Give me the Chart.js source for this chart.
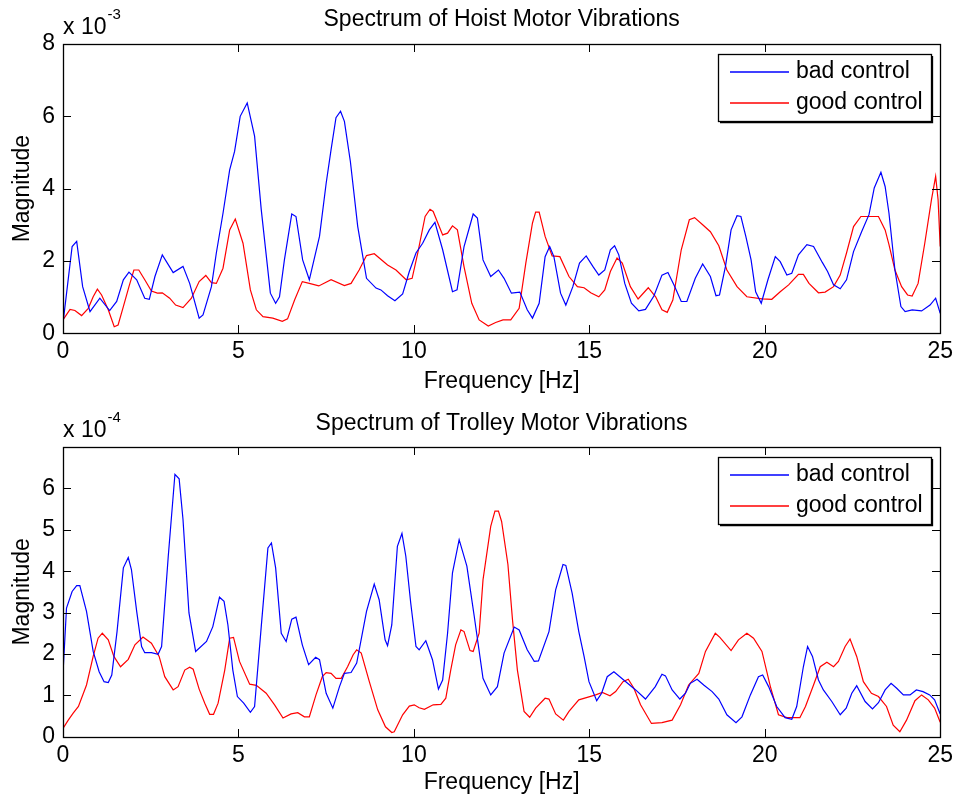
<!DOCTYPE html>
<html><head><meta charset="utf-8">
<script src="https://cdn.jsdelivr.net/npm/chart.js@4"></script>
<style>
html,body{margin:0;padding:0;background:#fff;width:958px;height:801px;overflow:hidden}
canvas{position:absolute;left:0}
#c1{top:0}
#c2{top:403px}
</style></head><body>
<canvas id="c1" width="958" height="400"></canvas>
<canvas id="c2" width="958" height="398"></canvas>
<script>
// ---------- DATA ----------
// Hoist motor, magnitude in units of 1e-3
const hoistBadHz  = [0,0.26,0.39,0.56,0.77,1.05,1.33,1.53,1.72,1.88,2.10,2.33,2.46,2.62,2.83,3.14,3.42,3.61,3.88,3.99,4.23,4.37,4.56,4.75,4.89,5.05,5.25,5.46,5.65,5.91,6.06,6.17,6.31,6.52,6.64,6.83,7.02,7.31,7.50,7.64,7.78,7.91,8.02,8.19,8.40,8.65,8.92,9.06,9.25,9.46,9.68,9.87,10.06,10.25,10.44,10.60,10.82,11.10,11.23,11.43,11.69,11.81,11.97,12.19,12.41,12.57,12.78,13.02,13.23,13.38,13.57,13.74,13.87,13.99,14.18,14.33,14.53,14.72,14.91,15.10,15.27,15.44,15.60,15.72,15.84,16.01,16.20,16.41,16.60,16.84,17.07,17.24,17.41,17.62,17.78,18.02,18.23,18.45,18.61,18.71,18.88,19.04,19.21,19.32,19.46,19.61,19.74,19.90,20.09,20.30,20.44,20.63,20.77,20.96,21.20,21.39,21.64,21.79,21.96,22.15,22.33,22.53,22.76,22.97,23.12,23.31,23.43,23.54,23.71,23.88,24.00,24.20,24.47,24.71,24.87,25.0];
const hoistBadMag = [0.28,2.40,2.54,1.29,0.60,0.97,0.63,0.88,1.48,1.69,1.48,0.97,0.94,1.57,2.17,1.68,1.85,1.38,0.42,0.51,1.29,2.22,3.32,4.52,5.03,6.00,6.37,5.45,3.42,1.11,0.83,1.01,2.03,3.30,3.23,2.03,1.48,2.68,4.15,5.08,5.96,6.14,5.86,4.75,2.95,1.52,1.25,1.20,1.04,0.90,1.09,1.71,2.22,2.49,2.86,3.07,2.31,1.15,1.20,2.40,3.30,3.19,2.03,1.57,1.75,1.52,1.11,1.14,0.65,0.42,0.83,2.12,2.40,2.12,1.11,0.78,1.29,1.94,2.14,1.85,1.61,1.75,2.31,2.42,2.17,1.38,0.83,0.62,0.66,1.03,1.61,1.68,1.34,0.88,0.88,1.52,1.92,1.57,1.04,1.06,1.85,2.86,3.25,3.23,2.68,2.03,1.15,0.83,1.48,2.12,1.98,1.61,1.66,2.17,2.45,2.40,1.96,1.71,1.34,1.23,1.48,2.26,2.81,3.28,4.02,4.45,4.06,3.32,1.75,0.74,0.60,0.65,0.62,0.78,0.97,0.55];
const hoistGoodHz  = [0,0.20,0.34,0.53,0.72,0.86,0.98,1.10,1.29,1.46,1.57,1.72,1.88,2.02,2.16,2.33,2.52,2.69,2.83,3.04,3.21,3.42,3.66,3.88,4.07,4.23,4.37,4.56,4.75,4.91,5.13,5.34,5.51,5.70,5.98,6.25,6.40,6.60,6.82,7.02,7.29,7.64,8.02,8.21,8.44,8.65,8.87,9.25,9.49,9.78,9.95,10.11,10.32,10.46,10.55,10.82,10.96,11.10,11.24,11.43,11.65,11.86,12.12,12.33,12.54,12.76,13.00,13.19,13.38,13.47,13.57,13.74,13.94,14.16,14.42,14.66,14.85,15.04,15.27,15.44,15.60,15.79,15.94,16.17,16.39,16.68,16.89,17.07,17.22,17.38,17.62,17.85,18.00,18.23,18.45,18.69,18.92,19.21,19.49,19.92,20.20,20.44,20.68,20.96,21.10,21.26,21.53,21.72,21.96,22.15,22.33,22.53,22.74,23.24,23.43,23.54,23.71,23.90,24.07,24.20,24.37,24.56,24.75,24.87,24.94,25.0];
const hoistGoodMag = [0.37,0.66,0.63,0.49,0.69,1.01,1.22,1.06,0.65,0.18,0.23,0.74,1.29,1.75,1.75,1.48,1.17,1.11,1.12,0.97,0.78,0.71,0.97,1.43,1.60,1.40,1.38,1.80,2.86,3.16,2.49,1.20,0.65,0.46,0.42,0.33,0.40,0.92,1.43,1.38,1.31,1.48,1.32,1.38,1.75,2.15,2.20,1.89,1.75,1.48,1.52,2.22,3.23,3.43,3.37,2.72,2.77,2.97,2.86,1.84,0.83,0.37,0.20,0.30,0.37,0.37,0.69,1.94,3.05,3.35,3.35,2.68,2.14,2.12,1.57,1.29,1.26,1.12,1.01,1.20,1.71,2.08,1.94,1.29,0.95,1.26,1.01,0.65,0.58,0.92,2.31,3.14,3.20,3.00,2.81,2.42,1.75,1.29,1.01,0.95,0.94,1.15,1.34,1.63,1.63,1.38,1.12,1.14,1.29,1.61,2.22,2.95,3.23,3.23,2.86,2.45,1.75,1.29,1.06,1.03,1.38,2.49,3.69,4.34,3.69,2.40];
// Trolley motor, magnitude in units of 1e-4
const trolleyBadHz  = [0,0.10,0.26,0.39,0.48,0.67,0.86,1.03,1.17,1.29,1.39,1.54,1.72,1.86,1.95,2.10,2.24,2.33,2.52,2.71,2.81,3.00,3.19,3.31,3.42,3.59,3.78,4.09,4.27,4.46,4.59,4.70,4.84,4.97,5.15,5.34,5.46,5.65,5.84,5.94,6.06,6.22,6.36,6.52,6.64,6.82,7.00,7.20,7.31,7.50,7.69,7.88,8.02,8.21,8.37,8.65,8.87,9.01,9.18,9.25,9.37,9.53,9.66,9.77,9.91,10.06,10.15,10.34,10.53,10.70,10.82,10.96,11.10,11.29,11.51,11.72,11.97,12.19,12.38,12.57,12.86,13.00,13.23,13.43,13.55,13.85,14.04,14.25,14.33,14.51,14.70,14.85,14.99,15.21,15.35,15.51,15.70,15.98,16.32,16.60,16.88,17.07,17.17,17.36,17.58,17.74,17.88,18.07,18.26,18.50,18.69,18.92,19.18,19.35,19.59,19.82,19.94,20.11,20.34,20.58,20.77,20.91,21.10,21.22,21.36,21.53,21.67,21.91,22.15,22.32,22.48,22.62,22.86,23.07,23.24,23.43,23.60,23.76,23.95,24.14,24.32,24.51,24.70,24.84,25.0];
const trolleyBadMag = [1.53,3.11,3.51,3.65,3.65,3.03,2.06,1.57,1.33,1.31,1.49,2.54,4.08,4.33,4.04,3.03,2.18,2.03,2.03,1.99,2.18,4.36,6.34,6.23,5.25,2.99,2.06,2.30,2.66,3.37,3.27,2.70,1.61,0.97,0.81,0.59,0.73,2.66,4.56,4.68,4.08,2.50,2.30,2.84,2.89,2.22,1.74,1.92,1.86,1.05,0.69,1.21,1.53,1.55,1.78,3.03,3.69,3.31,2.34,2.20,2.70,4.60,4.91,4.36,3.23,2.18,2.10,2.32,1.86,1.15,1.37,2.50,3.96,4.76,4.12,2.91,1.41,1.01,1.21,2.02,2.65,2.58,2.10,1.82,1.83,2.54,3.55,4.16,4.14,3.47,2.54,1.94,1.33,0.87,1.05,1.45,1.57,1.37,1.13,0.91,1.21,1.51,1.47,1.13,0.91,1.05,1.29,1.39,1.25,1.09,0.91,0.53,0.34,0.48,1.01,1.45,1.49,1.21,0.73,0.46,0.42,0.73,1.69,2.18,1.94,1.37,1.13,0.85,0.53,0.69,1.05,1.23,0.85,0.67,0.82,1.13,1.29,1.17,1.01,1.01,1.13,1.09,1.01,0.89,0.55];
const trolleyGoodHz  = [0,0.15,0.29,0.44,0.67,0.86,1.00,1.12,1.29,1.45,1.64,1.86,2.05,2.28,2.52,2.74,2.90,3.14,3.28,3.47,3.61,3.71,3.88,4.04,4.18,4.29,4.42,4.61,4.75,4.86,5.03,5.32,5.51,5.79,6.03,6.27,6.50,6.69,6.88,7.02,7.21,7.39,7.50,7.64,7.78,7.93,8.11,8.27,8.37,8.50,8.73,8.97,9.19,9.37,9.44,9.68,9.87,10.01,10.15,10.30,10.55,10.77,10.91,11.05,11.19,11.34,11.43,11.60,11.69,11.86,11.97,12.19,12.31,12.41,12.50,12.68,12.81,12.95,13.14,13.30,13.47,13.74,13.85,14.04,14.26,14.42,14.70,14.94,15.18,15.37,15.59,15.75,15.96,16.11,16.27,16.46,16.77,17.07,17.36,17.60,17.83,18.12,18.31,18.59,18.72,19.04,19.25,19.49,19.68,19.92,20.16,20.39,20.63,21.00,21.16,21.39,21.58,21.77,21.96,22.10,22.29,22.43,22.62,22.81,23.04,23.24,23.47,23.66,23.85,24.04,24.28,24.47,24.66,24.84,25.0];
const trolleyGoodMag = [0.20,0.40,0.57,0.73,1.25,1.94,2.38,2.50,2.34,1.94,1.69,1.87,2.22,2.41,2.26,1.94,1.45,1.13,1.21,1.61,1.68,1.63,1.15,0.81,0.54,0.54,0.81,1.61,2.38,2.40,1.82,1.27,1.24,1.05,0.77,0.45,0.55,0.58,0.48,0.48,1.01,1.45,1.55,1.53,1.41,1.41,1.69,1.98,2.10,2.02,1.33,0.65,0.24,0.10,0.12,0.53,0.74,0.77,0.70,0.66,0.77,0.78,0.93,1.61,2.22,2.58,2.54,2.08,2.06,2.50,3.79,5.08,5.45,5.45,5.20,4.16,2.83,1.61,0.61,0.47,0.69,0.93,0.91,0.55,0.40,0.61,0.89,0.95,1.01,1.07,0.99,1.09,1.33,1.39,1.17,0.77,0.32,0.34,0.40,0.77,1.25,1.53,2.06,2.50,2.40,2.08,2.34,2.50,2.38,2.06,1.21,0.53,0.46,0.46,0.73,1.25,1.69,1.80,1.69,1.82,2.18,2.36,1.94,1.33,1.05,0.97,0.73,0.28,0.12,0.40,0.87,1.01,0.89,0.69,0.35];

const seriesLabels = ['bad control', 'good control'];
const seriesColors = ['#0000ff', '#ff0000'];
const xTicks = [0, 5, 10, 15, 20, 25];
const hoistYTicks = [0, 2, 4, 6, 8];
const trolleyYTicks = [0, 1, 2, 3, 4, 5, 6];

// ---------- CHART ----------
const FONT = "'Liberation Sans', Arial, Helvetica, sans-serif";
const FS = 23;
const pairs = (xs, ys) => xs.map((v, i) => ({x: v, y: ys[i]}));

const matlabAxes = {
  id: 'matlabAxes',
  afterDraw(chart, args, opts) {
    const {ctx, chartArea: a, scales: {x, y}} = chart;
    ctx.save();
    ctx.strokeStyle = '#000';
    ctx.lineWidth = 1.3;
    const L = Math.round(a.left), T = Math.round(a.top), R = Math.round(a.right), B = Math.round(a.bottom);
    ctx.strokeRect(L + 0.5, T + 0.5, R - L, B - T);
    const tl = 8;
    ctx.lineWidth = 1;
    ctx.beginPath();
    x.ticks.forEach(t => {
      const p = Math.round(x.getPixelForValue(t.value)) + 0.5;
      ctx.moveTo(p, B); ctx.lineTo(p, B - tl);
      ctx.moveTo(p, T); ctx.lineTo(p, T + tl);
    });
    y.ticks.forEach(t => {
      const p = Math.round(y.getPixelForValue(t.value)) + 0.5;
      ctx.moveTo(L, p); ctx.lineTo(L + tl, p);
      ctx.moveTo(R, p); ctx.lineTo(R - tl, p);
    });
    ctx.stroke();
    // exponent label
    ctx.fillStyle = '#000';
    ctx.textAlign = 'left';
    ctx.textBaseline = 'middle';
    ctx.font = FS + 'px ' + FONT;
    ctx.fillText('x 10', L, T - 16);
    const w = ctx.measureText('x 10').width;
    ctx.font = '15px ' + FONT;
    ctx.fillText(opts.exp, L + w + 1, T - 29);
    // legend box
    const lw = 213, lh = 67;
    const lx = R - 9 - lw, ly = T + 10;
    ctx.fillStyle = '#fff';
    ctx.fillRect(lx, ly, lw, lh);
    ctx.lineWidth = 1.3;
    ctx.strokeStyle = '#000';
    ctx.strokeRect(lx + 0.5, ly + 0.5, lw, lh);
    ctx.beginPath();
    ctx.moveTo(lx + lw + 1.5, ly + 2); ctx.lineTo(lx + lw + 1.5, ly + lh + 1.5); ctx.lineTo(lx + 2, ly + lh + 1.5);
    ctx.stroke();
    ctx.font = FS + 'px ' + FONT;
    ctx.textBaseline = 'middle';
    chart.data.datasets.forEach((ds, i) => {
      const yy = ly + 17.5 + i * 31;
      ctx.strokeStyle = seriesColors[i];
      ctx.lineWidth = 1.4;
      ctx.beginPath();
      ctx.moveTo(lx + 12, Math.round(yy)); ctx.lineTo(lx + 71, Math.round(yy));
      ctx.stroke();
      ctx.fillStyle = '#000';
      ctx.fillText(ds.label, lx + 78, yy);
    });
    ctx.restore();
  }
};

function makeChart(id, c) {
  const tickFont = {family: FONT, size: FS, lineHeight: 1.2};
  return new Chart(document.getElementById(id), {
    type: 'line',
    data: {datasets: [
      {label: seriesLabels[0], data: pairs(c.badHz, c.badMag), borderColor: seriesColors[0], backgroundColor: seriesColors[0], borderWidth: 1.2, pointRadius: 0, tension: 0, fill: false},
      {label: seriesLabels[1], data: pairs(c.goodHz, c.goodMag), borderColor: seriesColors[1], backgroundColor: seriesColors[1], borderWidth: 1.2, pointRadius: 0, tension: 0, fill: false}
    ]},
    options: {
      responsive: false,
      animation: false,
      events: [],
      layout: {padding: {left: 0, right: 16, top: 0, bottom: 0}},
      plugins: {
        legend: {display: false},
        tooltip: {enabled: false},
        title: {display: true, fullSize: false, text: c.title, color: '#000',
          font: {family: FONT, size: FS, weight: 'normal', lineHeight: 1.2},
          padding: {top: c.titleTop, bottom: c.titleBottom}},
        matlabAxes: {exp: c.exp}
      },
      scales: {
        x: {
          type: 'linear', min: 0, max: 25,
          afterBuildTicks: s => { s.ticks = xTicks.map(v => ({value: v})); },
          ticks: {color: '#000', font: tickFont, padding: 5, maxRotation: 0, autoSkip: false},
          grid: {display: false, drawTicks: false},
          border: {display: false},
          title: {display: true, text: 'Frequency [Hz]', color: '#000', font: tickFont, padding: {top: 0, bottom: c.xTitleBottom}},
          afterFit: s => { s.height = c.xH; }
        },
        y: {
          type: 'linear', min: 0, max: c.yMax,
          afterBuildTicks: s => { s.ticks = c.yTicks.map(v => ({value: v})); },
          ticks: {color: '#000', font: tickFont, padding: 8, autoSkip: false},
          grid: {display: false, drawTicks: false},
          border: {display: false},
          title: {display: true, text: 'Magnitude', color: '#000', font: tickFont, padding: {top: 8.7, bottom: 0}},
          afterFit: s => { s.width = 63; }
        }
      }
    },
    plugins: [matlabAxes]
  });
}

makeChart('c1', {title: 'Spectrum of Hoist Motor Vibrations', badHz: hoistBadHz, badMag: hoistBadMag, goodHz: hoistGoodHz, goodMag: hoistGoodMag,
  yMax: 8, yTicks: hoistYTicks, exp: '-3', xH: 66.7, titleTop: 6.2, titleBottom: 10.2, xTitleBottom: 4.5});
makeChart('c2', {title: 'Spectrum of Trolley Motor Vibrations', badHz: trolleyBadHz, badMag: trolleyBadMag, goodHz: trolleyGoodHz, goodMag: trolleyGoodMag,
  yMax: 7, yTicks: trolleyYTicks, exp: '-4', xH: 64.3, titleTop: 7.2, titleBottom: 9.2, xTitleBottom: 4.2});
</script>
</body></html>
